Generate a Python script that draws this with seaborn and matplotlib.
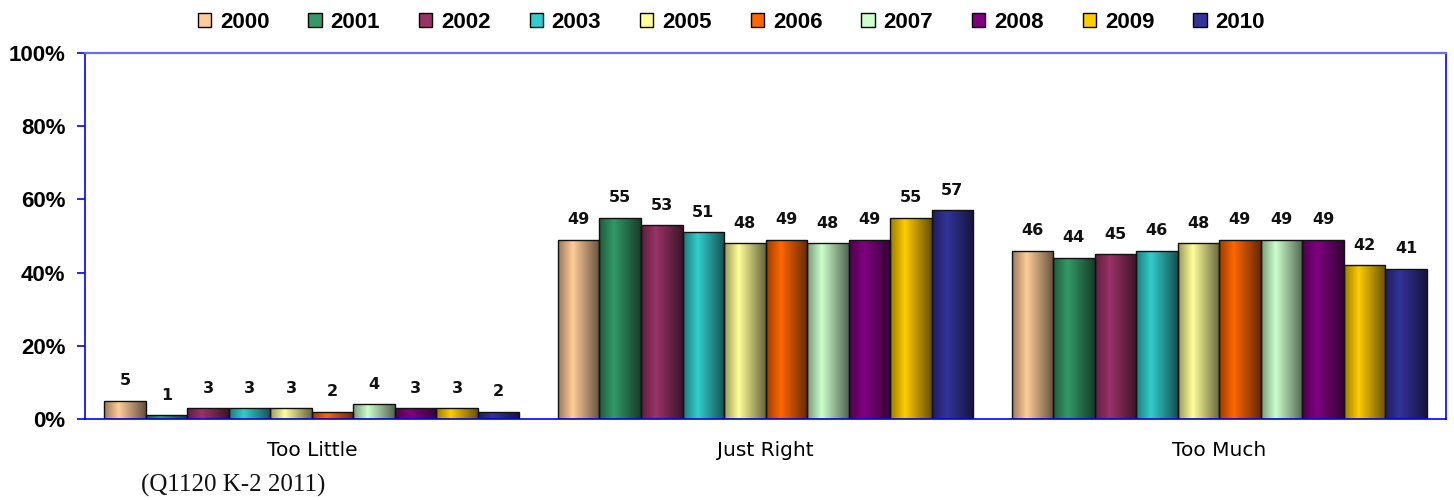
import numpy as np
import pandas as pd
import seaborn as sns
import matplotlib.pyplot as plt
from matplotlib.ticker import FuncFormatter
from matplotlib.colors import to_rgb

# values (percent)
categories = ['Too Little', 'Just Right', 'Too Much']
years = ['2000', '2001', '2002', '2003', '2005', '2006', '2007', '2008', '2009', '2010']
too_little = [5, 1, 3, 3, 3, 2, 4, 3, 3, 2]
just_right = [49, 55, 53, 51, 48, 49, 48, 49, 55, 57]
too_much = [46, 44, 45, 46, 48, 49, 49, 49, 42, 41]
colors = ['#FFCC99', '#339966', '#993366', '#33CCCC', '#FFFF99',
          '#FF6600', '#CCFFCC', '#800080', '#FFCC00', '#333399']

rows = []
for cat, vals in zip(categories, [too_little, just_right, too_much]):
    for yr, v in zip(years, vals):
        rows.append({'Response': cat, 'Year': yr, 'Percent': v})
df = pd.DataFrame(rows)

sns.set_style('white')
plt.rcParams['font.family'] = ['DejaVu Sans']
plt.rcParams['text.color'] = 'black'
plt.rcParams['xtick.color'] = 'black'
plt.rcParams['ytick.color'] = 'black'

fig = plt.figure(figsize=(14.54, 5), dpi=100)
ax = fig.add_axes([0.0585, 0.162, 0.936, 0.732])

sns.barplot(data=df, x='Response', y='Percent', hue='Year', order=categories,
            hue_order=years, palette=colors, width=0.915, gap=0,
            edgecolor='#111111', linewidth=1.0, saturation=1, legend=False, ax=ax)

ax.set_ylim(0, 100)
xlim = ax.get_xlim()

# cylinder-like shading on each bar
profile_x = np.array([0.0, 0.35, 1.0])
profile_v = np.array([0.6, 1.0, 0.4])
shade = np.interp(np.linspace(0, 1, 64), profile_x, profile_v)
for i, yr in enumerate(years):
    base = np.array(to_rgb(colors[i]))
    img = np.clip(shade[None, :, None] * base[None, None, :], 0, 1)
    for j in range(len(categories)):
        p = ax.patches[i * len(categories) + j]
        x0, w, h = p.get_x(), p.get_width(), p.get_height()
        im = ax.imshow(img, extent=[x0, x0 + w, 0, h], aspect='auto',
                       zorder=1.5, interpolation='bilinear')
        im.set_clip_path(p)
        p.set_facecolor('none')
        p.set_zorder(2)
        ax.annotate(f'{int(h)}', (x0 + w / 2, h), xytext=(0, 9),
                    textcoords='offset points', ha='center', va='bottom',
                    fontsize=11.5, fontweight='bold', color='#111111')

ax.set_xlim(xlim)
ax.set_ylim(0, 100)
ax.set_aspect('auto')

ax.set_yticks(range(0, 101, 20))
ax.yaxis.set_major_formatter(FuncFormatter(lambda v, _: f'{int(v)}%'))
for lab in ax.get_yticklabels():
    lab.set_family(['Liberation Sans'])
    lab.set_fontweight('bold')
    lab.set_fontsize(16)
ax.tick_params(axis='y', left=True, length=6, width=1.2, color='#0000FF', pad=8)
ax.tick_params(axis='x', bottom=False, labelsize=14.5, pad=12)
ax.set_xlabel('')
ax.set_ylabel('')

for side in ['left', 'right', 'bottom']:
    ax.spines[side].set_color('#0000FF')
    ax.spines[side].set_linewidth(1.2)
ax.spines['top'].set_color('#6A6AFF')
ax.spines['top'].set_linewidth(1.6)

handles = [plt.Rectangle((0, 0), 1, 1, facecolor=c, edgecolor='black', linewidth=1)
           for c in colors]
fig.legend(handles, years, loc='center', bbox_to_anchor=(0.503, 0.955), ncol=10,
           frameon=False, handlelength=0.6, handleheight=0.6, handletextpad=0.4,
           columnspacing=1.75, prop={'family': 'Liberation Sans', 'weight': 'bold', 'size': 16})

fig.text(0.097, 0.03, '(Q1120 K-2 2011)', family='Liberation Serif', fontsize=18,
         ha='left', va='center', color='#111111')

fig.savefig('out.png', dpi=100)
